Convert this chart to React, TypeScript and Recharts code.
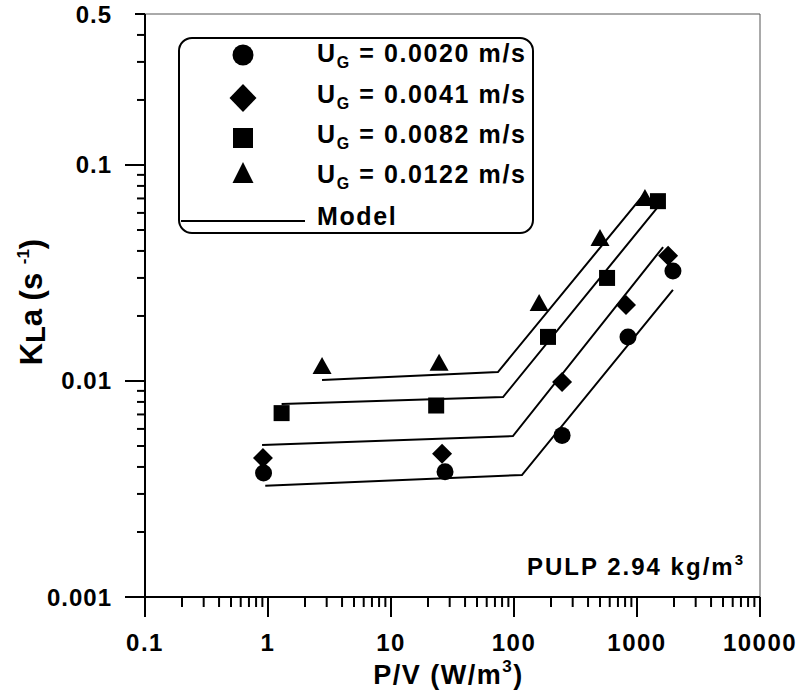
import React from 'react';
import {
  ScatterChart,
  Scatter,
  XAxis,
  YAxis,
  ReferenceLine,
  Legend,
  Label
} from 'recharts';

// measured points, P/V (W/m3) vs KLa (1/s)
const CIRCLE_X = [0.92, 27.5, 246, 845, 1960];
const CIRCLE_Y = [0.00375, 0.0038, 0.0056, 0.016, 0.0323];
const DIAMOND_X = [0.91, 26, 246, 814, 1790];
const DIAMOND_Y = [0.0044, 0.0046, 0.0099, 0.0225, 0.038];
const SQUARE_X = [1.29, 23.3, 189, 571, 1480];
const SQUARE_Y = [0.0071, 0.0077, 0.016, 0.03, 0.068];
const TRIANGLE_X = [2.75, 24.6, 160, 500, 1160];
const TRIANGLE_Y = [0.0115, 0.0119, 0.0225, 0.045, 0.0689];

// model curves (flat part then rising part)
const MODEL_CIRCLE_X = [0.95, 116, 1960];
const MODEL_CIRCLE_Y = [0.00327, 0.00367, 0.0264];
const MODEL_DIAMOND_X = [0.895, 98, 1630];
const MODEL_DIAMOND_Y = [0.00506, 0.00556, 0.0417];
const MODEL_SQUARE_X = [1.29, 81.5, 1480];
const MODEL_SQUARE_Y = [0.00783, 0.00843, 0.064];
const MODEL_TRIANGLE_X = [2.75, 74, 1160];
const MODEL_TRIANGLE_Y = [0.0101, 0.011, 0.0741];

const UG_VALUES = ['0.0020', '0.0041', '0.0082', '0.0122'];

const X_MAJOR = [0.1, 1, 10, 100, 1000, 10000];
const X_LABELS = ['0.1', '1', '10', '100', '1000', '10000'];
const Y_MAJOR = [0.001, 0.01, 0.1, 0.5];
const Y_LABELS = ['0.001', '0.01', '0.1', '0.5'];

const FONT = '"Liberation Sans", Arial, Helvetica, sans-serif';

const zip = (xs: number[], ys: number[]) => xs.map((x, i) => ({ x, y: ys[i] }));

const minorTicks = (decades: number[], maxVal: number) => {
  const out: number[] = [];
  decades.forEach((d) => {
    for (let k = 2; k <= 9; k++) {
      const v = parseFloat((d * k).toPrecision(3));
      if (v < maxVal) out.push(v);
    }
  });
  return out;
};

const X_TICKS = [...X_MAJOR, ...minorTicks([0.1, 1, 10, 100, 1000], 10000)].sort((a, b) => a - b);
const Y_TICKS = [...Y_MAJOR, ...minorTicks([0.001, 0.01, 0.1], 0.5)].sort((a, b) => a - b);

const XTick = (props: any) => {
  const { x, y, payload } = props;
  const idx = X_MAJOR.indexOf(payload.value);
  const major = idx >= 0;
  return (
    <g>
      <line x1={x} x2={x} y1={y} y2={y + (major ? 20 : 10)} stroke="#000" strokeWidth={2} />
      {major && (
        <text x={x} y={y + 54} textAnchor="middle" fontFamily={FONT} fontWeight="bold" fontSize={24} letterSpacing={1.5} fill="#000">
          {X_LABELS[idx]}
        </text>
      )}
    </g>
  );
};

const YTick = (props: any) => {
  const { x, y, payload } = props;
  const idx = Y_MAJOR.indexOf(payload.value);
  const major = idx >= 0;
  const len = !major ? 8 : payload.value === 0.5 ? 10 : 20;
  return (
    <g>
      <line x1={x} x2={x - len} y1={y} y2={y} stroke="#000" strokeWidth={2} />
      {major && (
        <text x={x - 33} y={y + 8.5} textAnchor="end" fontFamily={FONT} fontWeight="bold" fontSize={24} letterSpacing={1} fill="#000">
          {Y_LABELS[idx]}
        </text>
      )}
    </g>
  );
};

const CircleDot = (p: any) => <circle cx={p.cx} cy={p.cy} r={8.5} fill="#000" />;
const DiamondDot = (p: any) => (
  <polygon points={`${p.cx},${p.cy - 10} ${p.cx + 10},${p.cy} ${p.cx},${p.cy + 10} ${p.cx - 10},${p.cy}`} fill="#000" />
);
const SquareDot = (p: any) => <rect x={p.cx - 8} y={p.cy - 8} width={16} height={16} fill="#000" />;
const TriangleDot = (p: any) => (
  <polygon points={`${p.cx},${p.cy - 11} ${p.cx + 9.5},${p.cy + 6} ${p.cx - 9.5},${p.cy + 6}`} fill="#000" />
);
const NoDot = () => <g />;

const renderLegend = () => {
  const rows = [25, 66, 106, 146];
  const mx = 65;
  return (
    <svg width={358} height={200} style={{ display: 'block', overflow: 'visible' }}>
      <rect x={1} y={1} width={354} height={195} rx={13} fill="#fff" stroke="#000" strokeWidth={2} />
      <circle cx={mx} cy={18} r={10.5} fill="#000" />
      <polygon points={`${mx},${47} ${mx + 13.5},${61} ${mx},${75} ${mx - 13.5},${61}`} fill="#000" />
      <rect x={mx - 10} y={91} width={20} height={20} fill="#000" />
      <polygon points={`${mx},${125} ${mx + 10.5},${146} ${mx - 10.5},${146}`} fill="#000" />
      <line x1={3} x2={127} y1={184} y2={184} stroke="#000" strokeWidth={2} />
      {UG_VALUES.map((v, i) => (
        <text key={v} x={139} y={rows[i]} fontFamily={FONT} fontWeight="bold" fontSize={25} letterSpacing={1.6} fill="#000">
          U<tspan fontSize={16} dy={6}>G</tspan>
          <tspan dy={-6}>{` = ${v} m/s`}</tspan>
        </text>
      ))}
      <text x={139} y={188} fontFamily={FONT} fontWeight="bold" fontSize={25} letterSpacing={1.6} fill="#000">
        Model
      </text>
    </svg>
  );
};

const YTitle = (props: any) => {
  const vb = props.viewBox || { x: 0, y: 14, width: 145, height: 583 };
  const cx = vb.x + 42;
  const cy = 302;
  return (
    <text
      x={cx}
      y={cy}
      transform={`rotate(-90, ${cx}, ${cy})`}
      textAnchor="middle"
      fontFamily={FONT}
      fontWeight="bold"
      fontSize={31}
      fill="#000"
    >
      K<tspan fontSize={27} dy={3}>L</tspan>
      <tspan dy={-3}>a (s </tspan>
      <tspan fontSize={17} dy={-13}>-1</tspan>
      <tspan dy={13}>)</tspan>
    </text>
  );
};

const XTitle = (props: any) => {
  const vb = props.viewBox || { x: 145, y: 597, width: 615, height: 97 };
  return (
    <text
      x={vb.x + vb.width / 2 - 4}
      y={684}
      textAnchor="middle"
      fontFamily={FONT}
      fontWeight="bold"
      fontSize={27}
      letterSpacing={1.5}
      fill="#000"
    >
      P/V (W/m<tspan fontSize={17} dy={-12}>3</tspan>
      <tspan dy={12}>)</tspan>
    </text>
  );
};

export default function App() {
  return (
    <div style={{ position: 'absolute', left: 0, top: 0, width: 804, height: 694, background: '#fff' }}>
      <ScatterChart width={804} height={694} margin={{ top: 14, right: 44, bottom: 0, left: 0 }}>
        <XAxis
          type="number"
          dataKey="x"
          scale="log"
          domain={[0.1, 10000]}
          ticks={X_TICKS}
          interval={0}
          allowDataOverflow
          height={97}
          tickSize={0}
          tickMargin={0}
          tickLine={false}
          tick={<XTick />}
          axisLine={{ stroke: '#000', strokeWidth: 2 }}
        >
          <Label content={<XTitle />} />
        </XAxis>
        <YAxis
          type="number"
          dataKey="y"
          scale="log"
          domain={[0.001, 0.5]}
          ticks={Y_TICKS}
          interval={0}
          allowDataOverflow
          width={145}
          tickSize={0}
          tickMargin={0}
          tickLine={false}
          tick={<YTick />}
          axisLine={{ stroke: '#000', strokeWidth: 2 }}
        >
          <Label content={<YTitle />} />
        </YAxis>
        <ReferenceLine y={0.5} stroke="#555" strokeWidth={1} />
        <ReferenceLine x={10000} stroke="#555" strokeWidth={1} />

        <Scatter data={zip(MODEL_CIRCLE_X, MODEL_CIRCLE_Y)} line={{ stroke: '#000', strokeWidth: 2 }} shape={NoDot} isAnimationActive={false} />
        <Scatter data={zip(MODEL_DIAMOND_X, MODEL_DIAMOND_Y)} line={{ stroke: '#000', strokeWidth: 2 }} shape={NoDot} isAnimationActive={false} />
        <Scatter data={zip(MODEL_SQUARE_X, MODEL_SQUARE_Y)} line={{ stroke: '#000', strokeWidth: 2 }} shape={NoDot} isAnimationActive={false} />
        <Scatter data={zip(MODEL_TRIANGLE_X, MODEL_TRIANGLE_Y)} line={{ stroke: '#000', strokeWidth: 2 }} shape={NoDot} isAnimationActive={false} />

        <Scatter data={zip(CIRCLE_X, CIRCLE_Y)} shape={CircleDot} isAnimationActive={false} />
        <Scatter data={zip(DIAMOND_X, DIAMOND_Y)} shape={DiamondDot} isAnimationActive={false} />
        <Scatter data={zip(SQUARE_X, SQUARE_Y)} shape={SquareDot} isAnimationActive={false} />
        <Scatter data={zip(TRIANGLE_X, TRIANGLE_Y)} shape={TriangleDot} isAnimationActive={false} />

        <Legend
          content={renderLegend}
          layout="horizontal"
          verticalAlign="middle"
          align="center"
          wrapperStyle={{ left: 178, top: 37, width: 358, height: 200 }}
        />
      </ScatterChart>
      <svg width={804} height={694} style={{ position: 'absolute', left: 0, top: 0, pointerEvents: 'none' }}>
        <text x={527} y={575} fontFamily={FONT} fontWeight="bold" fontSize={24} letterSpacing={2} fill="#000">
          PULP 2.94 kg/m<tspan fontSize={15} dy={-10}>3</tspan>
        </text>
      </svg>
    </div>
  );
}
